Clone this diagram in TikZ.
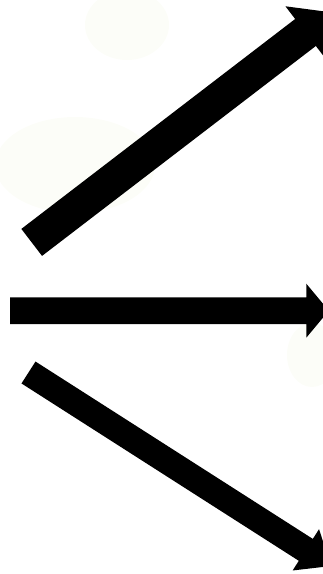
\documentclass[tikz,border=0pt]{standalone}
\usetikzlibrary{calc}
\newcommand\blockarrow[6]{% #1 tail, #2 tip, #3 shaft half width, #4 head half width, #5 head length, #6 name
  \coordinate (#6h) at ($(#2)!#5!(#1)$);
  \fill[arrowfill] ($(#1)!#3!90:(#2)$) -- ($(#6h)!#3!90:(#2)$) -- ($(#6h)!#4!90:(#2)$)
    -- (#2) -- ($(#6h)!#4!-90:(#2)$) -- ($(#6h)!#3!-90:(#2)$) -- ($(#1)!#3!-90:(#2)$) -- cycle;
}
\begin{document}
\begin{tikzpicture}[x=1pt,y=-1pt,
  arrowfill/.style={fill=black},
  faint/.style={fill={rgb,255:red,252;green,253;blue,248}}]
\useasboundingbox (0,0) rectangle (323,574);
\clip (0,0) rectangle (323,574);
% faint background blobs
\fill[faint] (127,25) ellipse [x radius=42, y radius=35];
\fill[faint] (75,165) ellipse [x radius=80, y radius=48];
\fill[faint] (312,355) ellipse [x radius=25, y radius=32];
% arrow end points
\coordinate (t1) at (31.7,242.4);
\coordinate (p1) at (331.7,12.4);
\coordinate (t2) at (10,310.7);
\coordinate (p2) at (328.8,310.7);
\coordinate (t3) at (28.5,372.5);
\coordinate (p3) at (331.1,566);
\blockarrow{t1}{p1}{17pt}{33pt}{33pt}{a}
\blockarrow{t2}{p2}{13.4pt}{27pt}{22.5pt}{b}
\blockarrow{t3}{p3}{13pt}{24.5pt}{30pt}{c}
\end{tikzpicture}
\end{document}
